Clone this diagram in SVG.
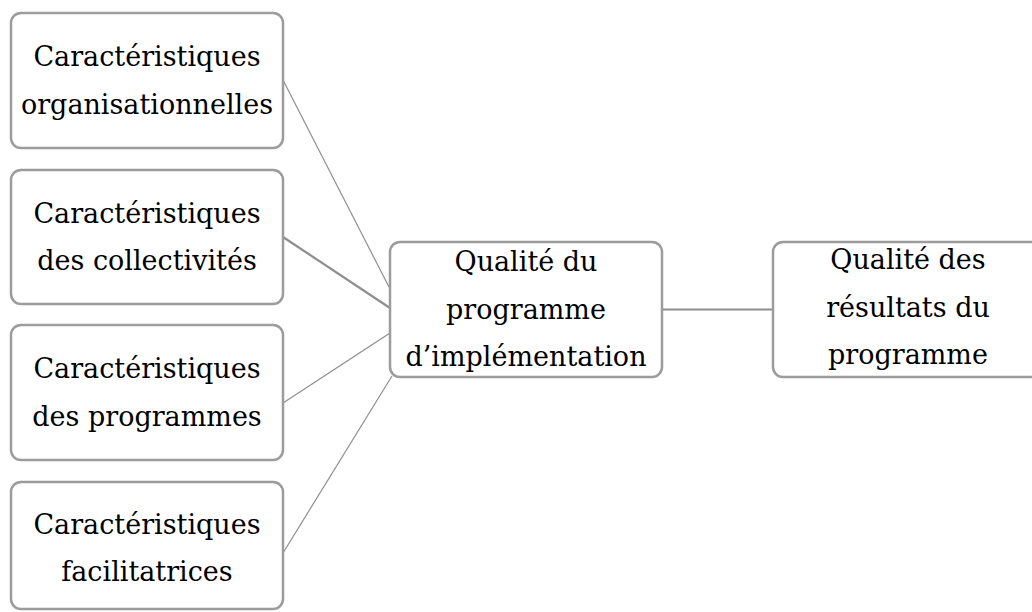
<svg xmlns="http://www.w3.org/2000/svg" width="1032" height="612" viewBox="0 0 1032 612">
  <style>
    .box { fill: #ffffff; stroke: #9c9c9c; stroke-width: 2.5; }
    .lbl { font-family: "DejaVu Serif", "Liberation Serif", serif; font-size: 27px; fill: #000000; text-anchor: middle; }
    .thin { stroke: #8e8e8e; stroke-width: 1.2; fill: none; }
    .thick { stroke: #8e8e8e; stroke-width: 2.2; fill: none; }
  </style>
  <rect width="1032" height="612" fill="#ffffff"/>
  <g id="connectors">
    <line class="thin" x1="283" y1="80" x2="389" y2="287"/>
    <line class="thick" x1="283" y1="237" x2="390" y2="308"/>
    <line class="thin" x1="283" y1="403" x2="390" y2="333"/>
    <line class="thin" x1="283" y1="553" x2="392" y2="376"/>
    <line class="thick" x1="662" y1="309.5" x2="773" y2="309.5"/>
  </g>
  <g id="node-organisationnelles">
    <rect class="box" x="11" y="13" width="272" height="135" rx="10"/>
    <text class="lbl" x="147" y="66">Caractéristiques</text>
    <text class="lbl" x="147" y="113.5">organisationnelles</text>
  </g>
  <g id="node-collectivites">
    <rect class="box" x="11" y="170" width="272" height="134" rx="10"/>
    <text class="lbl" x="147" y="222.5">Caractéristiques</text>
    <text class="lbl" x="147" y="270">des collectivités</text>
  </g>
  <g id="node-programmes">
    <rect class="box" x="11" y="325" width="272" height="135" rx="10"/>
    <text class="lbl" x="147" y="378">Caractéristiques</text>
    <text class="lbl" x="147" y="425.5">des programmes</text>
  </g>
  <g id="node-facilitatrices">
    <rect class="box" x="11" y="482" width="272" height="127" rx="10"/>
    <text class="lbl" x="147" y="533.5">Caractéristiques</text>
    <text class="lbl" x="147" y="581">facilitatrices</text>
  </g>
  <g id="node-implementation">
    <rect class="box" x="390" y="242" width="272" height="135" rx="10"/>
    <text class="lbl" x="526" y="271">Qualité du</text>
    <text class="lbl" x="526" y="318.5">programme</text>
    <text class="lbl" x="526" y="366">d’implémentation</text>
  </g>
  <g id="node-resultats">
    <rect class="box" x="773" y="242" width="272" height="135" rx="10"/>
    <text class="lbl" x="908" y="269">Qualité des</text>
    <text class="lbl" x="908" y="316.5">résultats du</text>
    <text class="lbl" x="908" y="364">programme</text>
  </g>
</svg>
